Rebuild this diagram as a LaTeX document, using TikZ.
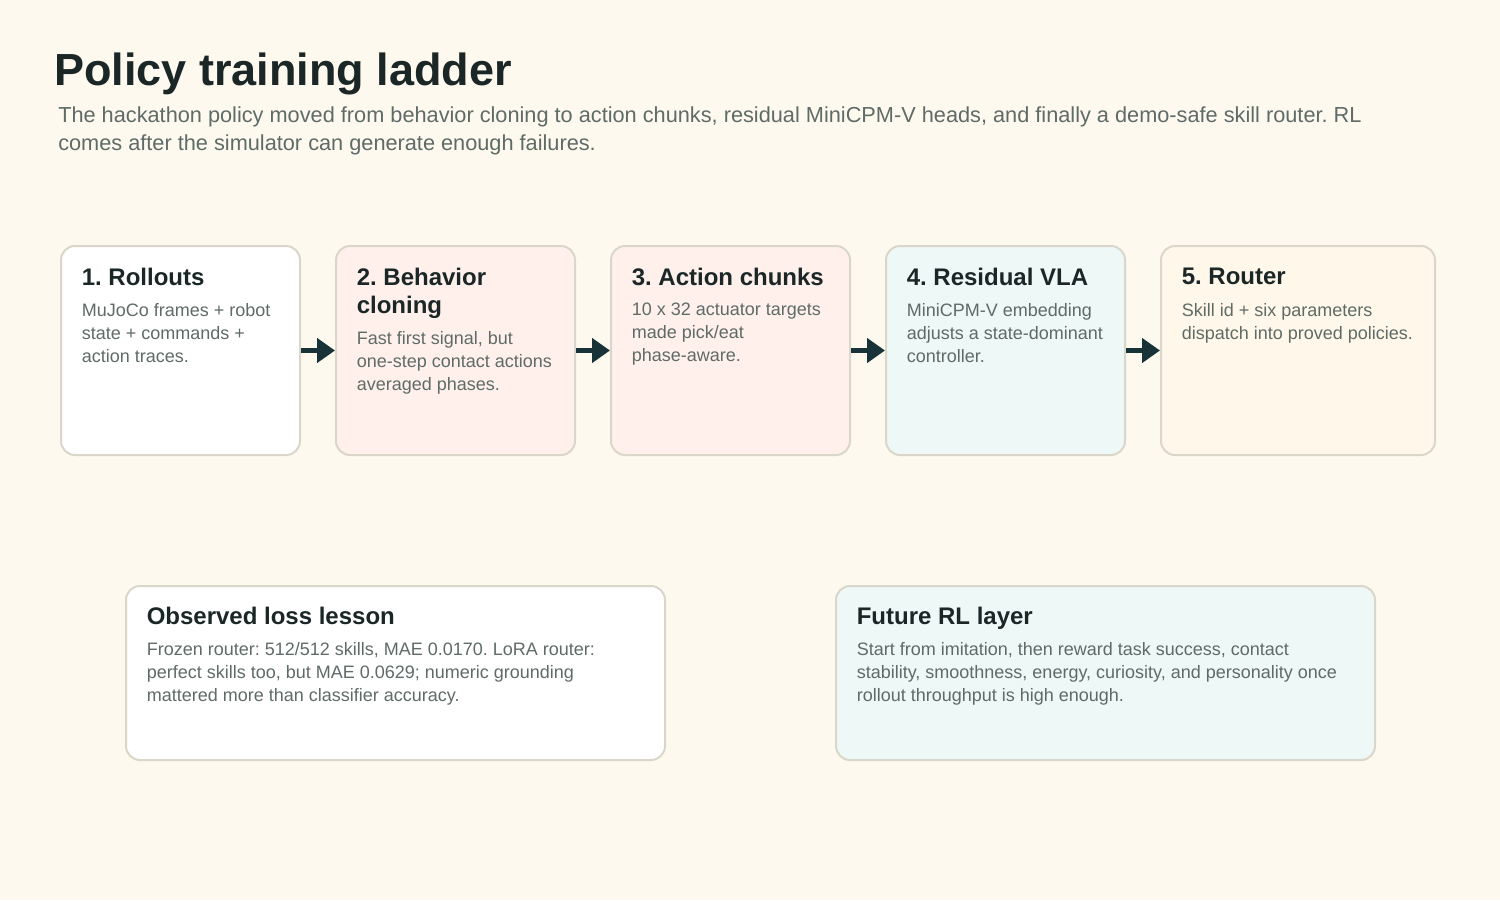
\documentclass[tikz,border=0pt]{standalone}
\usepackage{fontspec}
\setmainfont{Liberation Sans}
\usepackage{tikz}
\usetikzlibrary{arrows.meta,calc}
\frenchspacing

\definecolor{pagebg}{HTML}{FDF9EF}
\definecolor{inkdark}{HTML}{1B2727}
\definecolor{inkgrey}{HTML}{5F6B67}
\definecolor{rimgrey}{HTML}{DAD6C9}
\definecolor{arrowteal}{HTML}{173338}
\definecolor{fillrose}{HTML}{FFF0EB}
\definecolor{fillmint}{HTML}{EDF8F7}
\definecolor{fillcream}{HTML}{FFF8EA}

\tikzset{
  stagebox/.style={draw=rimgrey, line width=1.5pt, rounded corners=10.5pt, inner sep=0pt,
    minimum width=179.25pt, minimum height=156.75pt},
  notebox/.style={stagebox, minimum width=404.25pt, minimum height=130.5pt},
  boxtitle/.style={anchor=north west, inner sep=0pt, text=inkdark, align=left,
    font=\fontsize{18}{21}\selectfont\bfseries},
  boxbody/.style={anchor=north west, inner sep=0pt, text=inkgrey, align=left,
    font=\fontsize{13.5}{17.25}\selectfont},
  flow/.style={draw=arrowteal, line width=3.75pt, -{Triangle[length=13.5pt,width=18pt]}}
}

\begin{document}
\begin{tikzpicture}[x=0.75pt,y=0.75pt,yscale=-1,xscale=1]
%background, sets the 1500 x 900 frame
\path[fill=pagebg, use as bounding box] (0,0) rectangle (1500,900);
% Heading
\node[anchor=base west, inner sep=0pt, text=inkdark, font=\fontsize{33.75}{40}\selectfont\bfseries] (heading) at (54,85) {Policy training ladder};
\node[anchor=north west, inner sep=0pt, text=inkgrey, align=left, font=\fontsize{16.3}{21}\selectfont] (lead) at (58,106)
  {The hackathon policy moved from behavior cloning to action chunks, residual MiniCPM-V heads, and finally a demo-safe skill router. RL\\comes after the simulator can generate enough failures.};
%Stage boxes
\node[stagebox, fill=white] (rollouts) at (180.5,350.5) {};
\node[stagebox, fill=fillrose] (cloning) at (455.5,350.5) {};
\node[stagebox, fill=fillrose] (chunks) at (730.5,350.5) {};
\node[stagebox, fill=fillmint] (residual) at (1005.5,350.5) {};
\node[stagebox, fill=fillcream, minimum width=205.5pt] (router) at (1298,350.5) {};
%Arrows between stages
\draw[flow] (rollouts.east) -- (cloning.west);
\draw[flow] (cloning.east) -- (chunks.west);
\draw[flow] (chunks.east) -- (residual.west);
\draw[flow] (residual.east) -- (router.west);
% Text Node
\node[boxtitle] (rollouts-t) at ($(rollouts.north west)+(21.5,22.5)$) {1. Rollouts};
\node[boxbody] (rollouts-b) at ($(rollouts.north west)+(21.5,58)$) {MuJoCo frames + robot\\state + commands +\\action traces.};
% Text Node
\node[boxtitle] (cloning-t) at ($(cloning.north west)+(21.5,22.5)$) {2. Behavior\\cloning};
\node[boxbody] (cloning-b) at ($(cloning.north west)+(21.5,86)$) {Fast first signal, but\\one-step contact actions\\averaged phases.};
% Text Node
\node[boxtitle] (chunks-t) at ($(chunks.north west)+(21.5,22.5)$) {3. Action chunks};
\node[boxbody] (chunks-b) at ($(chunks.north west)+(21.5,58)$) {10 x 32 actuator targets\\made pick/eat\\phase-aware.};
% Text Node
\node[boxtitle] (residual-t) at ($(residual.north west)+(21.5,22.5)$) {4. Residual VLA};
\node[boxbody] (residual-b) at ($(residual.north west)+(21.5,58)$) {MiniCPM-V embedding\\adjusts a state-dominant\\controller.};
% Text Node
\node[boxtitle] (router-t) at ($(router.north west)+(21.5,23)$) {5. Router};
\node[boxbody] (router-b) at ($(router.north west)+(21.5,58)$) {Skill id + six parameters\\dispatch into proved policies.};
%Lower notes
\node[notebox, fill=white] (lesson) at (395.5,673) {};
\node[notebox, fill=fillmint] (future) at (1105.5,673) {};
% Text Node
\node[boxtitle] (lesson-t) at ($(lesson.north west)+(21.5,21.5)$) {Observed loss lesson};
\node[boxbody] (lesson-b) at ($(lesson.north west)+(21.5,57)$) {Frozen router: 512/512 skills, MAE 0.0170. LoRA router:\\perfect skills too, but MAE 0.0629; numeric grounding\\mattered more than classifier accuracy.};
% Text Node
\node[boxtitle] (future-t) at ($(future.north west)+(21.5,21.5)$) {Future RL layer};
\node[boxbody] (future-b) at ($(future.north west)+(21.5,57)$) {Start from imitation, then reward task success, contact\\stability, smoothness, energy, curiosity, and personality once\\rollout throughput is high enough.};
\end{tikzpicture}
\end{document}
